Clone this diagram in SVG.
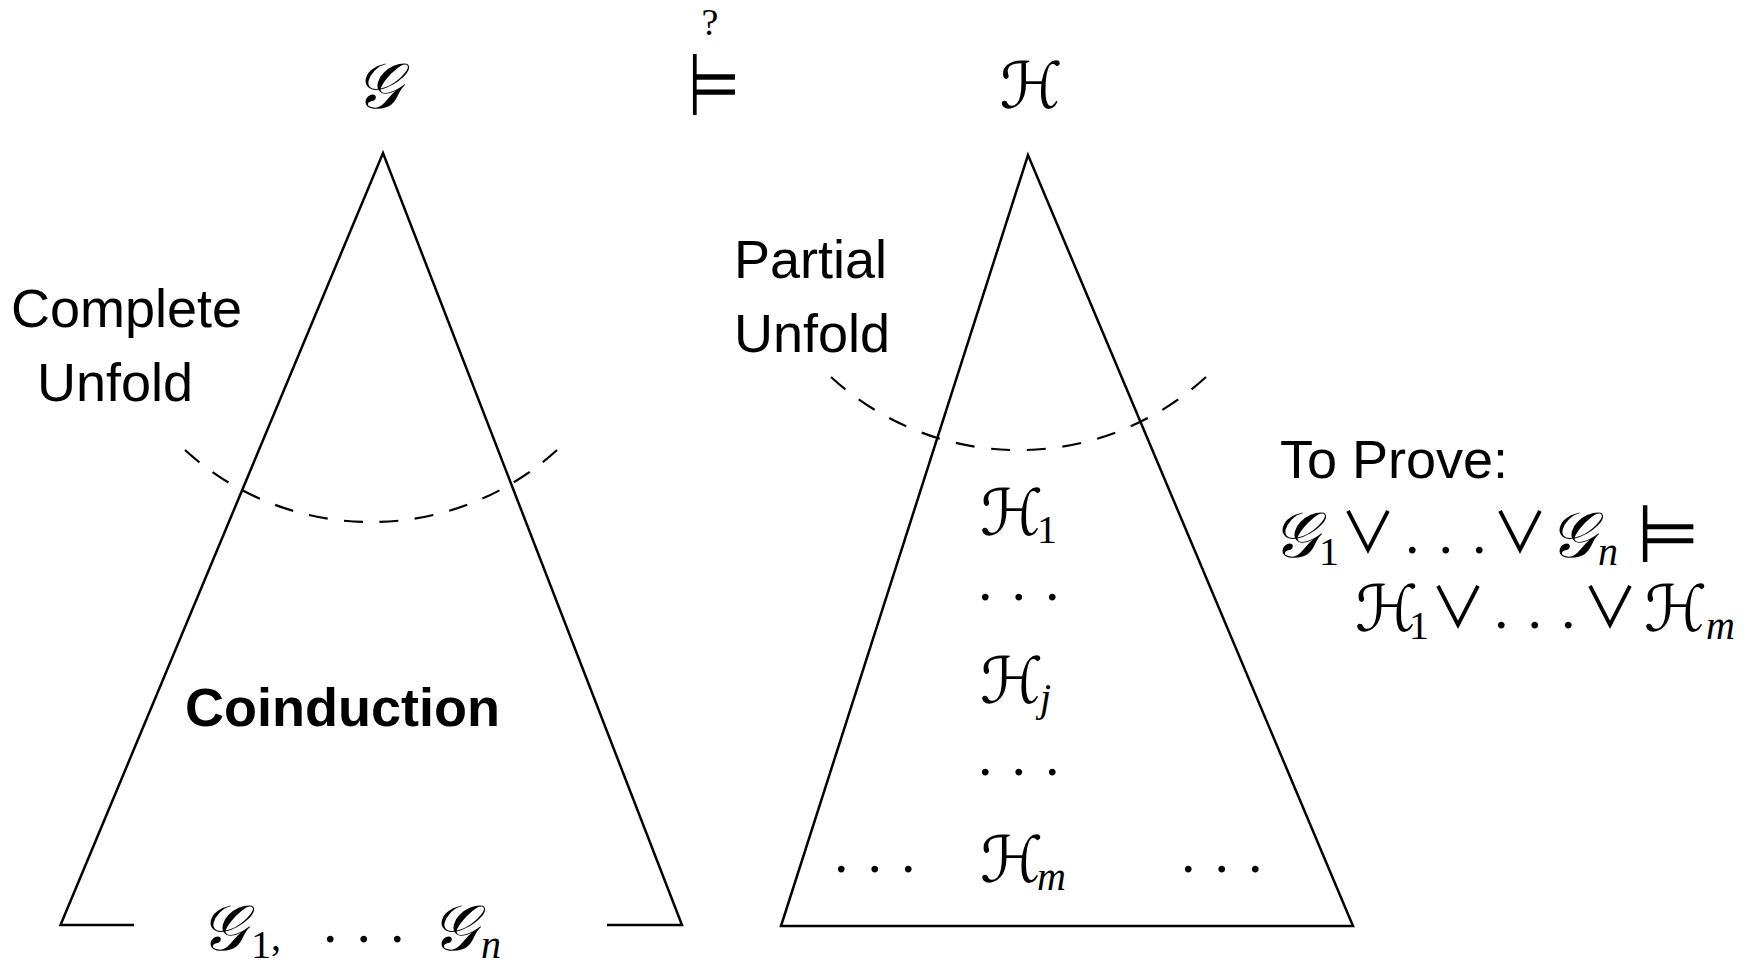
<svg xmlns="http://www.w3.org/2000/svg" width="1756" height="966" viewBox="0 0 1756 966">
<style>
.tri{fill:none;stroke:#000;stroke-width:2.5;stroke-linejoin:miter}
.dash{fill:none;stroke:#000;stroke-width:2.2}
.lbl{font-family:"Liberation Sans",Arial,sans-serif;font-size:54px;fill:#000}
.bold{font-weight:bold}
.cal{font-family:"DejaVu Serif","DejaVu Sans",serif;font-style:italic;font-size:64px;fill:#000}
.rm{font-family:"Liberation Serif",serif;font-size:40px;fill:#000}
.it{font-family:"Liberation Serif",serif;font-style:italic;font-size:40px;fill:#000}
.dots{font-family:"Liberation Serif",serif;font-size:58px;letter-spacing:19px;fill:#000}
.sym{font-family:"DejaVu Sans",sans-serif;font-size:60px;fill:#000}
.or{font-family:"Noto Sans CJK JP","DejaVu Sans",sans-serif;font-size:56px;fill:#000}
.q{font-family:"Liberation Serif",serif;font-size:38px;fill:#000}
</style>
<rect width="1756" height="966" fill="#fff"/>
<g id="title-G"><text class="cal" x="378" y="108" text-anchor="middle">𝒢</text></g>
<g id="entails">
<text class="sym" text-anchor="middle" transform="translate(714,115) scale(1,1.45)">⊨</text>
<text class="q" x="710" y="35" text-anchor="middle">?</text>
</g>
<g id="title-H"><text class="cal" x="1031" y="108" text-anchor="middle">ℋ</text></g>
<g id="left-tree">
<path class="tri" d="M134,925 H60.5 L383,153 L682,925 H607"/>
<path class="dash" stroke-dasharray="19 16.4" d="M185,450 A276,276 0 0 0 557,450"/>
<text class="lbl" x="11" y="327">Complete</text>
<text class="lbl" x="37" y="401">Unfold</text>
<text class="lbl bold" x="185" y="726">Coinduction</text>
<text class="cal" x="200" y="950">𝒢</text><text class="rm" x="251" y="958">1</text><text class="rm" x="271" y="950" font-size="54">,</text>
<text class="dots" x="323" y="942">...</text>
<text class="cal" x="431" y="950">𝒢</text><text class="it" x="481" y="958">n</text>
</g>
<g id="right-tree">
<path class="tri" d="M781,926 L1028,155 L1353,926 Z"/>
<path class="dash" stroke-dasharray="19 16.7" d="M831,377 A277,277 0 0 0 1206,377"/>
<text class="lbl" x="734" y="278">Partial</text>
<text class="lbl" x="734" y="352">Unfold</text>
<text class="cal" x="980" y="535">ℋ</text><text class="rm" x="1037" y="543">1</text>
<text class="dots" x="978" y="600">...</text>
<text class="cal" x="980" y="703">ℋ</text><text class="it" x="1040" y="711">j</text>
<text class="dots" x="978" y="775">...</text>
<text class="cal" x="980" y="882">ℋ</text><text class="it" x="1037" y="890">m</text>
<text class="dots" x="834" y="872">...</text>
<text class="dots" x="1181" y="872">...</text>
</g>
<g id="to-prove">
<text class="lbl" x="1280" y="478">To Prove:</text>
<text class="cal" x="1272" y="557">𝒢</text><text class="rm" x="1319" y="565">1</text>
<text class="or" x="1368" y="552" text-anchor="middle">∨</text>
<text class="dots" x="1405" y="553">...</text>
<text class="or" x="1520" y="552" text-anchor="middle">∨</text>
<text class="cal" x="1549" y="557">𝒢</text><text class="it" x="1598" y="565">n</text>
<text class="sym" text-anchor="middle" transform="translate(1668,562) scale(1.2,1.35)">⊨</text>
<text class="cal" x="1355" y="631">ℋ</text><text class="rm" x="1409" y="639">1</text>
<text class="or" x="1458" y="627" text-anchor="middle">∨</text>
<text class="dots" x="1494" y="628">...</text>
<text class="or" x="1610" y="627" text-anchor="middle">∨</text>
<text class="cal" x="1644" y="631">ℋ</text><text class="it" x="1706" y="639">m</text>
</g>
</svg>
